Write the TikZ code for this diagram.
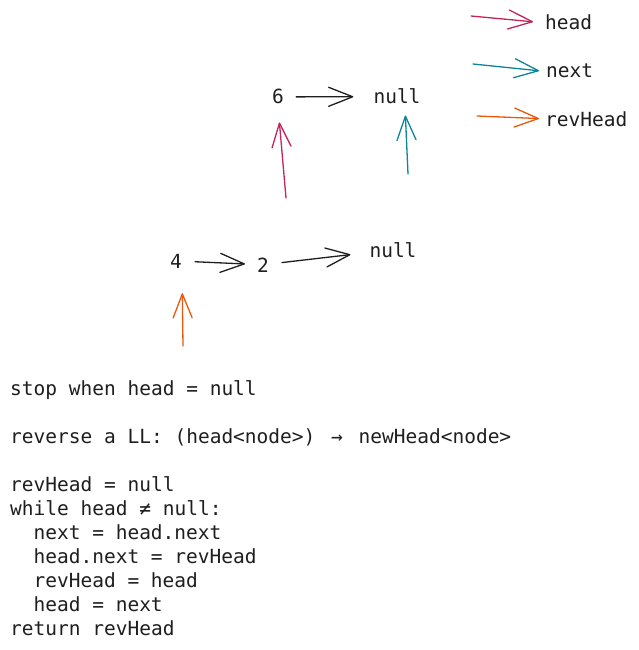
\documentclass[tikz,border=0pt]{standalone}
\usepackage{fontspec}
\setmonofont{DejaVu Sans Mono}
\usetikzlibrary{math, arrows.meta}

\definecolor{headc}{HTML}{C2255C}
\definecolor{nextc}{HTML}{0C8599}
\definecolor{revc}{HTML}{E8590C}
\definecolor{ink}{HTML}{1E1E1E}

\tikzset{
  arr/.style={line width=1.3pt, line cap=round, line join=round,
    -{Straight Barb[length=24pt, width=19pt, round]}},
  lbl/.style={anchor=base west, inner sep=2pt, text=ink,
    font=\ttfamily\fontsize{19.5}{24}\selectfont},
  val/.style={anchor=base, inner sep=2pt, text=ink,
    font=\ttfamily\fontsize{19.5}{24}\selectfont}
}

\begin{document}
\begin{tikzpicture}[x=1pt, y=-1pt]
  \tikzmath{\cw = 11.7; \lh = 24;}

  \useasboundingbox (0, 0) rectangle (638, 650);

  % legend
  \node[lbl] (lblhead) at (543, 30) {head};
  \node[lbl] (lblnext) at (544, 78) {next};
  \node[lbl] (lblrev) at (543, 126) {revHead};
  \coordinate (lh) at (471, 16);
  \coordinate (ln) at (473, 64);
  \coordinate (lr) at (477, 116);
  \draw[arr, headc, shorten >=10pt] (lh) -- (lblhead.west);
  \draw[arr, nextc, shorten >=5pt] (ln) -- (lblnext.west);
  \draw[arr, revc, shorten >=4pt] (lr) -- (lblrev.west);

  % reversed part: 6 -> null
  \node[val] (n6) at (278, 104) {6};
  \node[val] (nullA) at (397, 104) {null};
  \draw[arr, ink, shorten <=10pt, shorten >=18pt] (n6) -- (nullA);

  % rest of the list: 4 -> 2 -> null
  \node[val] (n4) at (176, 268) {4};
  \node[val] (n2) at (263, 272) {2};
  \node[val] (nullB) at (393, 257) {null};
  \draw[arr, ink, shorten <=11pt, shorten >=10pt] (n4) -- (n2);
  \draw[arr, ink, shorten <=11pt, shorten >=17pt] (n2) -- (nullB);

  % pointers
  \coordinate (ph) at (286, 198);
  \coordinate (pn) at (408, 174);
  \coordinate (pr) at (183, 346);
  \draw[arr, headc, shorten >=16pt] (ph) -- (n6.south);
  \draw[arr, nextc, shorten >=9pt] (pn) -- ([xshift=8pt]nullA.south);
  \draw[arr, revc, shorten >=23pt] (pr) -- ([xshift=6pt]n4.south);

  % pseudo code
  \foreach \row/\ind/\txt in {
      0/0/stop when head = null,
      2/0/reverse a LL: (head<node>) \hspace{4pt}→\hspace{4pt} newHead<node>,
      4/0/revHead = null,
      5/0/while head ≠ null:,
      6/2/next = head.next,
      7/2/head.next = revHead,
      8/2/revHead = head,
      9/2/head = next,
      10/0/return revHead}
    \node[lbl, inner sep=0pt] (code\row) at (10+\ind*\cw, 395+\row*\lh) {\txt};

\end{tikzpicture}
\end{document}
